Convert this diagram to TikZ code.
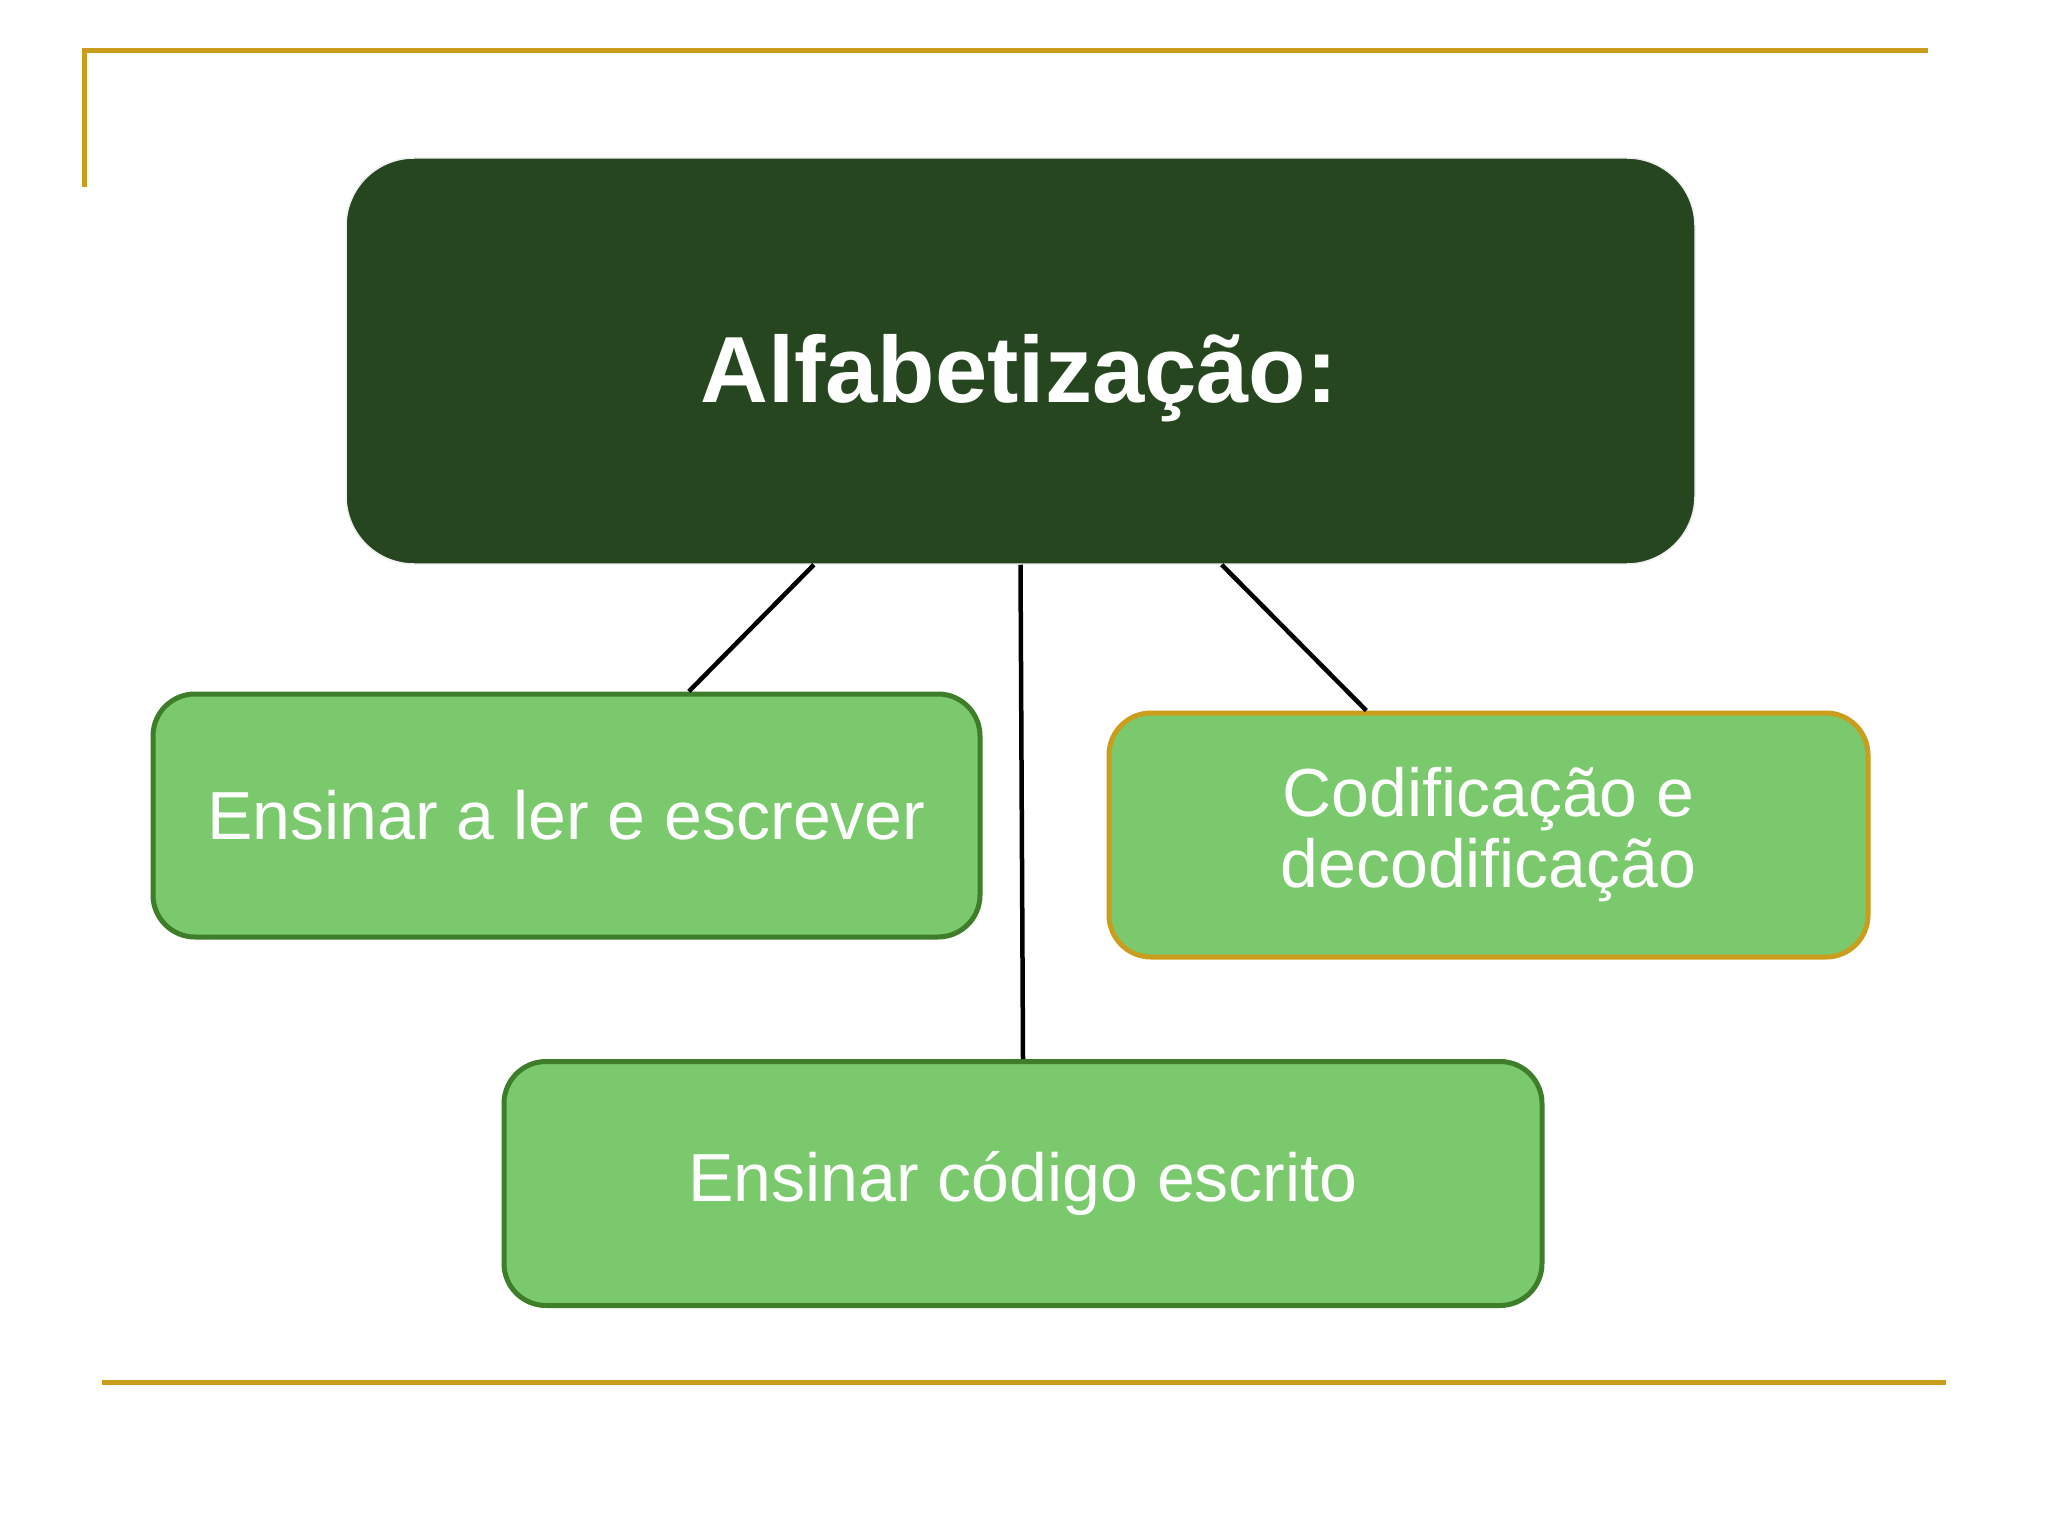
\documentclass[tikz,border=0pt]{standalone}
\usepackage{fontspec}
\setmainfont{Liberation Sans}
\usetikzlibrary{calc}
\definecolor{darkg}{RGB}{38,70,32}
\definecolor{lightg}{RGB}{122,201,108}
\definecolor{borderg}{RGB}{62,125,42}
\definecolor{gold}{RGB}{202,158,28}
\tikzset{
  topbox/.style={rectangle, rounded corners=68pt, fill=darkg, draw=gray!12, line width=1.5pt, inner sep=0pt},
  titletext/.style={inner sep=0pt, text=white, font=\fontsize{94}{100}\selectfont\bfseries},
  childbox/.style={rectangle, rounded corners=42pt, fill=lightg, draw=borderg, line width=5pt, inner sep=0pt, text=white, align=center, font=\fontsize{68}{71}\selectfont},
  goldbox/.style={childbox, draw=gold},
  link/.style={draw=black, line width=4.5pt},
  deco/.style={draw=gold, line width=5pt}
}
\begin{document}
\begin{tikzpicture}[x=1pt,y=-1pt]
\useasboundingbox[fill=white] (0,0) rectangle (2048,1536);
\draw[deco] (84,187) -- (84,51) -- (1928,51);
\draw[deco] (102,1382) -- (1946,1382);
\node[topbox, minimum width=1349pt, minimum height=406pt] (top) at (1020.5,361) {};
\node[titletext] (toptitle) at (1019,378) {Alfabetização:};
\node[childbox, minimum width=827pt, minimum height=243pt] (left) at (566.5,815.5) {Ensinar a ler e escrever};
\node[goldbox, minimum width=759pt, minimum height=244pt] (right) at (1488.5,835) {Codificação e\\decodificação};
\node[childbox, minimum width=1038pt, minimum height=244pt] (bottom) at (1023,1183.5) {Ensinar código escrito};
\draw[link] ($(top.south west)!0.347!(top.south east)$) -- ($(left.north west)!0.647!(left.north east)$);
\draw[link] (top.south) -- (bottom.north);
\draw[link] ($(top.south west)!0.649!(top.south east)$) -- ($(right.north west)!0.34!(right.north east)$);
\end{tikzpicture}
\end{document}
